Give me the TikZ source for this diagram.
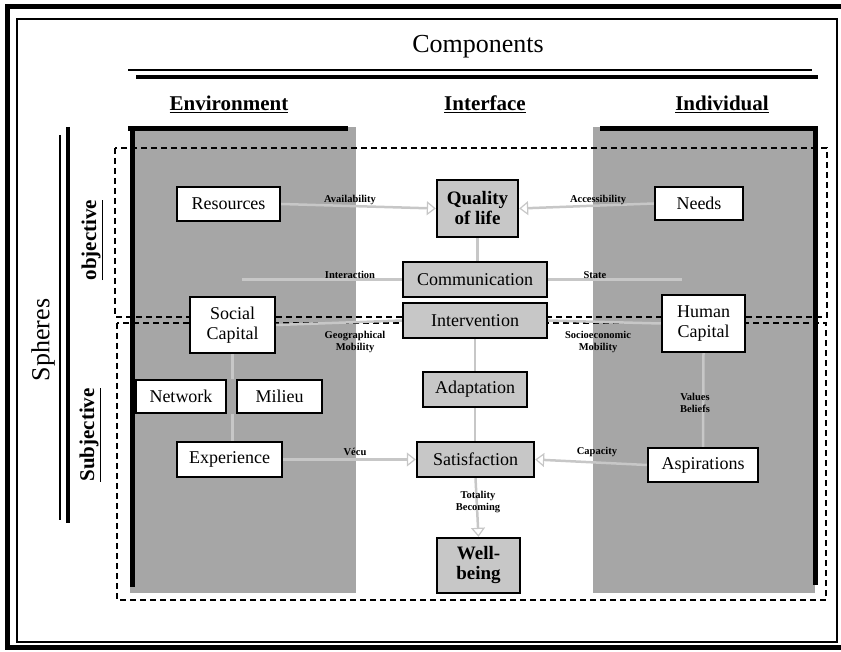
\documentclass[tikz,border=0pt]{standalone}
\usepackage{fontspec}
\setmainfont{Liberation Serif}
\usetikzlibrary{arrows.meta}

\begin{document}
\begin{tikzpicture}[x=1pt, y=-1pt,
  every node/.style = {align=center, inner sep=0pt},
  elem/.style = {draw, line width=2.4pt, fill=white, font=\fontsize{18}{20}\selectfont},
  iface/.style = {elem, fill=black!22},
  link/.style = {draw=black!22, line width=2.5pt},
  flow/.style = {link, -{Triangle[open, length=9pt, width=14pt, line width=1.2pt]}},
  tag/.style = {font=\fontsize{10.5}{11.5}\bfseries\selectfont},
  head/.style = {font=\fontsize{21}{23}\bfseries\selectfont},
  sphere/.style = {draw, line width=1.1pt, dash pattern=on 6pt off 4pt}
    ]
  \useasboundingbox (0,0) rectangle (841,652);
  \draw[line width=5pt] (7,7) rectangle (845,647);
  \draw[line width=1.5pt] (17,19) rectangle (837,642);

  \fill[black!35] (130,127) rectangle (356,593);
  \fill[black!35] (593,127) rectangle (815,593);
  \fill (128,126) rectangle (348,131);
  \fill (130,126) rectangle (135,587);
  \fill (600,126) rectangle (818,131);
  \fill (813,126) rectangle (818,585);

  \draw[sphere] (115,148) rectangle (827,317);
  \draw[sphere] (117,323) rectangle (826,600);

  \node (comp) at (478,47) {\fontsize{26}{28}\selectfont Components};
  \draw[line width=1.8pt] (128,70) -- (812,70);
  \draw[line width=4pt] (136,77) -- (818,77);
  \node[head] (env) at (229,104) {\underline{Environment}};
  \node[head] (itf) at (485,104) {\underline{Interface}};
  \node[head] (ind) at (722,104) {\underline{Individual}};

  \node[rotate=90] (sph) at (43,340) {\fontsize{26}{28}\selectfont Spheres};
  \draw[line width=1.8pt] (60,135) -- (60,520);
  \draw[line width=4pt] (68,127) -- (68,523);
  \node[head, rotate=90] (obj) at (92,240) {\underline{objective}};
  \node[head, rotate=90] (subj) at (90,435) {\underline{Subjective}};

  \node[elem, minimum width=103pt, minimum height=34pt] (res) at (228.5,204) {Resources};
  \node[elem, minimum width=85pt, minimum height=56pt] (soc) at (232.5,325) {Social\\Capital};
  \node[elem, minimum width=90pt, minimum height=33pt] (net) at (181,396.5) {Network};
  \node[elem, minimum width=85pt, minimum height=33pt] (mil) at (279.5,396.5) {Milieu};
  \node[elem, minimum width=105pt, minimum height=35pt] (exp) at (229.5,459.5) {Experience};

  \node[elem, minimum width=88pt, minimum height=33pt] (need) at (699,203.5) {Needs};
  \node[elem, minimum width=83pt, minimum height=57pt] (hum) at (703.5,323.5) {Human\\Capital};
  \node[elem, minimum width=110pt, minimum height=34pt] (asp) at (703,465) {Aspirations};

  \node[iface, minimum width=81pt, minimum height=57pt, font=\fontsize{19}{20}\bfseries\selectfont] (qol) at (477.5,208.5) {Quality\\of life};
  \node[iface, minimum width=144pt, minimum height=35pt] (com) at (475,279.5) {Communication};
  \node[iface, minimum width=144pt, minimum height=35pt] (int) at (475,320.5) {Intervention};
  \node[iface, minimum width=104pt, minimum height=35pt] (ada) at (475,389.5) {Adaptation};
  \node[iface, minimum width=117pt, minimum height=35pt] (sat) at (475.5,459.5) {Satisfaction};
  \node[iface, minimum width=83pt, minimum height=55pt, font=\fontsize{19}{20}\bfseries\selectfont] (wb) at (478.5,565.5) {Well-\\being};

  \coordinate (interend) at (242,283);
  \coordinate (stateend) at (682,282);

  \draw[flow] (res.east) -- (qol.west);
  \draw[flow] (need.west) -- (qol.east);
  \draw[flow] (exp.east) -- (sat.west);
  \draw[flow] (asp.west) -- (sat.east);
  \draw[flow] (sat.south) -- (wb.north);
  \draw[link] (com.west) -- (com.west -| interend);
  \draw[link] (com.east) -- (com.east -| stateend);
  \draw[link] (soc.east) -- (int.west);
  \draw[link] (int.east) -- (hum.west);
  \draw[link] (qol.south) -- (qol.south |- com.north);
  \draw[link] (int.south) -- (int.south |- ada.north);
  \draw[link] (ada.south) -- (ada.south |- sat.north);
  \draw[link] (soc.south) -- (soc.south |- net.north);
  \draw[link] (soc.south |- net.south) -- (soc.south |- exp.north);
  \draw[link] (hum.south) -- (asp.north);

  \node[tag] (avail) at (350,200) {Availability};
  \node[tag] (interac) at (350,275) {Interaction};
  \node[tag] (geo) at (355,342) {Geographical\\Mobility};
  \node[tag] (vecu) at (355,452) {Vécu};
  \node[tag] (acc) at (598,200) {Accessibility};
  \node[tag] (state) at (595,275) {State};
  \node[tag] (socio) at (598,342) {Socioeconomic\\Mobility};
  \node[tag] (cap) at (597,452) {Capacity};
  \node[tag] (val) at (695,403) {Values\\Beliefs};
  \node[tag] (tot) at (478,502) {Totality\\Becoming};
\end{tikzpicture}
\end{document}
